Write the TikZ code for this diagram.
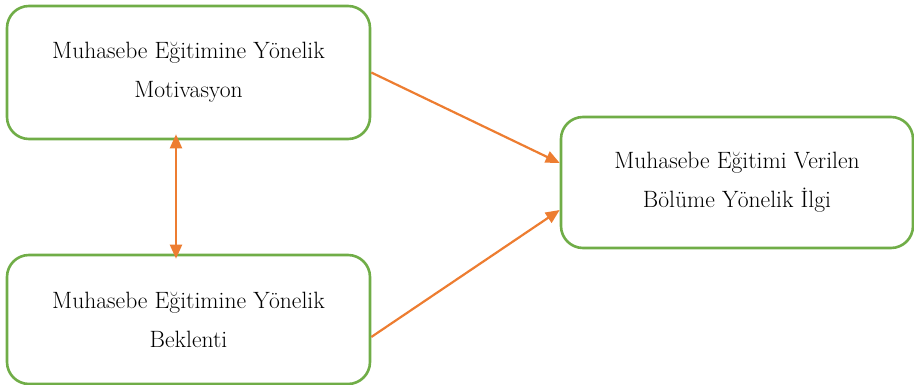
\documentclass[tikz,border=0pt]{standalone}
\usetikzlibrary{arrows.meta,calc}
\definecolor{boxgreen}{HTML}{70AD47}
\definecolor{arrorange}{HTML}{ED7D31}
\begin{document}
\begin{tikzpicture}[x=1pt,y=-1pt,
  box/.style={draw=boxgreen,line width=2.6pt,rounded corners=22pt,fill=white,
    align=center,inner sep=0pt,font=\fontsize{23.6}{39}\selectfont},
  conn/.style={draw=arrorange,line width=2.2pt,-{Triangle[length=14pt,width=12pt]}},
  dconn/.style={draw=arrorange,line width=2.2pt,{Triangle[length=14pt,width=12pt]}-{Triangle[length=14pt,width=12pt]}}]
\useasboundingbox (0,0) rectangle (914,385);
\node[box,minimum width=363pt,minimum height=133pt] (mot) at (188.5,72.5)
  {Muhasebe Eğitimine Yönelik\\Motivasyon};
\node[box,minimum width=363pt,minimum height=129pt] (bek) at (188.5,319.5)
  {Muhasebe Eğitimine Yönelik\\Beklenti};
\node[box,minimum width=352pt,minimum height=131pt] (ilg) at (737,182.5)
  {Muhasebe Eğitimi Verilen\\Bölüme Yönelik İlgi};
\draw[conn] (mot.east) -- ($(ilg.west)+(0,-19.5)$);
\draw[conn] ($(bek.east)+(0,17.5)$) -- ($(ilg.west)+(0,27.5)$);
\draw[dconn,shorten <=-6pt,shorten >=-5pt] ($(mot.south)+(-12.5,0)$) -- ($(bek.north)+(-12.5,0)$);
\end{tikzpicture}
\end{document}
